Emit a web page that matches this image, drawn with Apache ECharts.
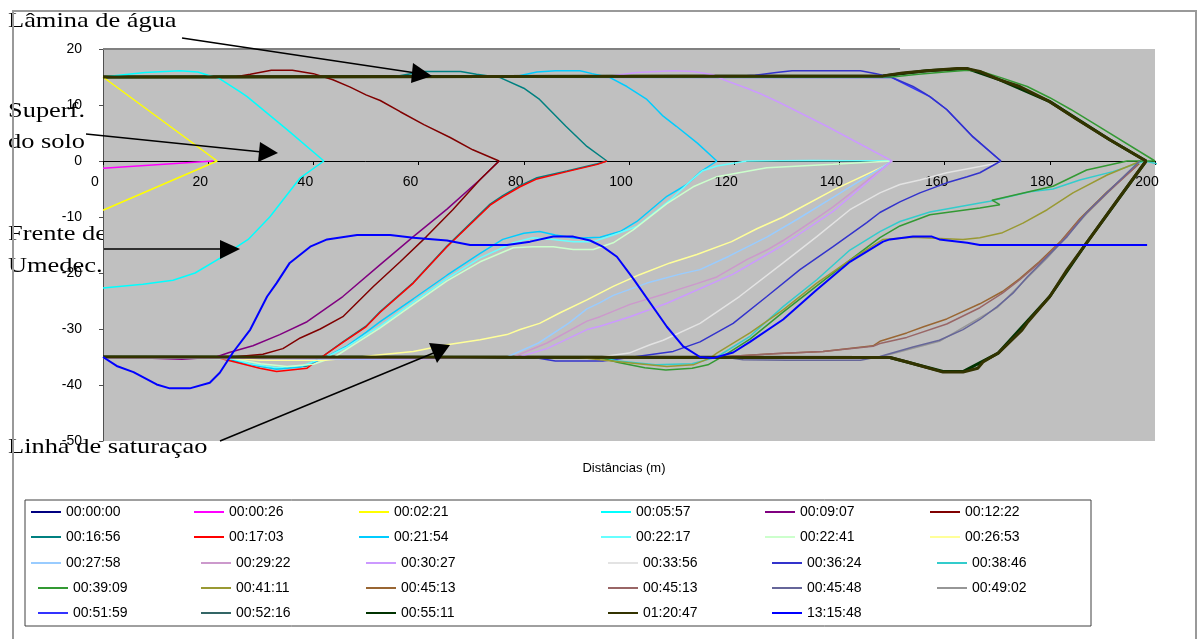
<!DOCTYPE html>
<html>
<head>
<meta charset="utf-8">
<script src="https://cdn.jsdelivr.net/npm/echarts@6/dist/echarts.min.js"></script>
<style>
html, body { margin: 0; padding: 0; background: #fff; }
#chart { width: 1197px; height: 639px; }
</style>
</head>
<body>
<div id="chart"></div>
<script>
// tempos de avanço (legenda, por linhas de 6)
const names = [
  '00:00:00', '00:00:26', '00:02:21', '00:05:57', '00:09:07', '00:12:22',
  '00:16:56', '00:17:03', '00:21:54', '00:22:17', '00:22:41', '00:26:53',
  '00:27:58', '00:29:22', '00:30:27', '00:33:56', '00:36:24', '00:38:46',
  '00:39:09', '00:41:11', '00:45:13', '00:45:13 ', '00:45:48', '00:49:02',
  '00:51:59', '00:52:16', '00:55:11', '01:20:47', '13:15:48'
];
const colors = [
  '#000080', '#FF00FF', '#FFFF00', '#00FFFF', '#800080', '#800000',
  '#008080', '#FF0000', '#00CCFF', '#66FFFF', '#CCFFCC', '#FFFF99',
  '#99CCFF', '#CC99CC', '#CC99FF', '#E3E3E3', '#3333CC', '#33CCCC',
  '#339933', '#999933', '#996633', '#996666', '#666699', '#969696',
  '#3333FF', '#336666', '#003300', '#333300', '#0000FF'
];
const xTicks = [0, 20, 40, 60, 80, 100, 120, 140, 160, 180, 200];
const yTicks = [-50, -40, -30, -20, -10, 0, 10, 20];

// perfis [distância, cota]
const t000000 = [[0, 15], [100, 15]];
const t000026 = [[0, -1.3], [21, 0]];
const t000221 = [[0, 15], [21.7, 0], [0, -8.8]];
const t000557 = [[0,15],[3,15.3],[8,15.8],[14.6,16.1],[18,15.9],[20,15.3],[22,14.8],[24,13.6],[26,12.4],[27.4,11.5],[35,5.6],[42,0],[37.5,-3],[31.7,-10],[27.6,-14],[24.7,-15.8],[22.9,-17],[17.5,-20],[13.3,-21.3],[7.6,-22],[0,-22.7]];
const t000907 = [[75.3,0],[71.7,-3.3],[65.4,-8.6],[59,-13.5],[52.7,-18.5],[45.6,-24.2],[38.8,-28.7],[33.6,-31],[28.5,-33],[24,-34.2],[21.5,-35],[15,-35.4],[8,-35.2],[0,-35]];
const t001222 = [[0,15],[25,15],[28,15.5],[32,16.2],[36,16.2],[40,15.6],[43.7,14.5],[47,13.2],[50,11.8],[52.7,10.8],[56.5,8.8],[61,6.5],[66,4.2],[70.3,2],[75.3,0],[71.7,-3.3],[66.5,-8.7],[61.5,-13.5],[56.5,-18],[51.4,-22.4],[45.6,-27.8],[41.3,-30],[37.5,-31.6],[34.2,-33.5],[30.4,-34.5],[24.7,-35],[0,-35]];
const t001656 = [[0,15],[55,15],[58,15.5],[61,16],[68,16],[71,15.5],[75.5,14.9],[80,13],[83,11],[88,6.2],[92,2.6],[95.8,0],[94,-0.5],[88.2,-1.8],[82.5,-3],[79.3,-4.4],[76,-6.2],[73.6,-7.7],[65.4,-15.2],[59,-21.7],[52.7,-26.9],[50,-29.5],[45.6,-32.3],[41.6,-35],[38.8,-36.6],[33,-37],[29.8,-36.6],[24.7,-35.6],[22,-35],[0,-35]];
const t001703 = [[95.8,0],[94,-0.6],[88.2,-1.9],[82.5,-3.2],[79.3,-4.6],[76,-6.4],[73.6,-7.9],[65.4,-15.3],[59,-21.8],[52.7,-27],[50,-29.6],[45.6,-32.4],[41.6,-35],[38.8,-37],[33,-37.6],[29.8,-37],[24.7,-35.8],[22,-35.2],[0,-35.1]];
const t002154 = [[0,15],[78,15],[82.5,15.9],[86,16.1],[90.7,16.1],[93,15.6],[96.4,14.9],[99.6,13.3],[103.4,11],[106.5,8],[109,6.2],[113,3.2],[116.7,0],[113.5,-2],[111,-4.2],[107.2,-6.3],[101.5,-10.8],[98.3,-12.6],[94.5,-13.6],[90,-13.8],[86,-13.2],[83,-12.6],[80,-12.9],[76,-14],[71.7,-16.5],[65.4,-20.4],[59,-24.6],[52.7,-28.7],[50,-30.6],[46.4,-33],[42.8,-34.8],[40,-36],[37.5,-36.8],[33,-37.2],[28.5,-36.4],[24,-35.3],[20,-35],[0,-35]];
const t002217 = [[150,0],[135,0.1],[122.4,0],[116.7,-0.9],[113.9,-1.8],[112,-3.3],[107.8,-7],[101.5,-11.7],[97,-13.2],[93.2,-14.4],[89.4,-14.4],[85.6,-14],[81.7,-13.7],[78,-14.6],[71.7,-17.3],[65.4,-21],[59,-25.2],[52.7,-29.5],[50,-31],[46,-33.4],[42.5,-35],[38,-36.5],[33,-36.9],[28,-36.2],[24,-35.2],[0,-35]];
const t002241 = [[150,0],[138.8,-0.6],[126.2,-1.2],[116.7,-2.8],[112.2,-4.6],[107.2,-7.6],[100.8,-12.3],[97,-14.6],[93.2,-15.8],[89.4,-15.8],[85.6,-15.3],[81.7,-15.3],[78,-15.5],[71.7,-18],[65.4,-21.4],[59,-25.6],[52.7,-29.8],[48,-32.6],[44,-35],[40,-36.3],[35,-36.7],[30,-36.2],[25,-35.3],[0,-35]];
const t002653 = [[150,0],[149,-0.7],[138.8,-5.2],[129.3,-10],[124.3,-12.1],[119.5,-14.4],[112.9,-16.7],[107.8,-18.2],[102,-20.3],[97,-22.4],[92,-24.8],[86.9,-27.1],[83,-29],[79.3,-30.1],[76.8,-31],[71.7,-31.9],[65.4,-32.8],[59,-34],[52.7,-34.6],[48,-35.1],[42,-35.6],[30,-35.6],[24,-35.2],[0,-35]];
const t002758 = [[150,0],[148.3,-1],[138.8,-6.5],[132,-10.4],[126.2,-13.6],[119,-17],[113.5,-19.4],[109.7,-20.2],[103.4,-21.8],[97,-24],[94.5,-25.3],[92,-26.4],[88.5,-29],[82.8,-32.5],[76.8,-35],[50,-35.4],[0,-35]];
const t002922 = [[150,0],[148.3,-1.3],[138.8,-8.2],[135.7,-10.2],[129.3,-14.2],[126.2,-15.9],[122.4,-17.6],[116.7,-20.7],[112.9,-21.9],[107.2,-23.6],[100.2,-25.6],[94.5,-27.8],[92,-28.6],[84.4,-32.5],[78,-35],[0,-35.2]];
const t003027 = [[0,15],[95,15],[101.5,15.8],[108.4,16.1],[112.2,16],[116,15.4],[118,14.5],[122.4,13],[125,12],[128.7,10.4],[137.6,6.2],[150,0],[138.8,-9],[129.3,-15],[119.8,-20.2],[107.2,-25.4],[100.2,-27.8],[94.5,-29.5],[92,-30.1],[84.4,-33.5],[79,-35],[60,-35.3],[0,-35.2]];
const t003356 = [[170.5,-0.3],[166.7,-1],[160.4,-2.1],[155.3,-3.4],[151.5,-4.2],[147.7,-5.7],[142,-8.7],[135.7,-13.5],[129.3,-18.2],[121,-24.2],[113.5,-29],[106.5,-32],[104,-32.8],[100,-34.3],[94.5,-35],[0,-35.1]];
const t003624 = [[0,15],[118,15],[124,15.3],[128,15.8],[131,16.1],[144,16.1],[147,15.6],[150,14.9],[154,13.3],[156,12.2],[157.2,11.5],[160.4,9.2],[165.4,4.3],[170.7,0],[166.7,-2.1],[164.3,-2.8],[160.4,-3.9],[155.3,-5.7],[151.5,-7.3],[147.7,-9.2],[145.2,-11],[138.8,-15.3],[132.5,-19.4],[126.2,-24.2],[119.8,-29],[113.5,-32.3],[108.4,-34],[100.8,-35],[95,-35.7],[86,-35.7],[82,-35.1],[0,-35]];
const t003846 = [[201,-0.6],[198,0],[192,-1.9],[185.7,-3.4],[180.6,-5],[176.2,-5.5],[168.6,-7.2],[166.7,-7.5],[157.2,-9.1],[151.5,-10.8],[147.7,-12.6],[142,-15.9],[135.7,-21.2],[129.3,-26],[123,-31.3],[116.7,-35],[112,-36.2],[105,-36.4],[98,-35.7],[94,-35],[0,-35]];
const t003909 = [[0,15],[150,15],[155,15.5],[160,15.9],[164.3,16.2],[167,16],[171,14.8],[175.7,13.3],[180,11.3],[184,9.2],[188.2,6.8],[200,0],[194.7,0],[187,-1.6],[180.6,-4.5],[175,-5.7],[169,-7],[170.5,-7.8],[166.7,-8.4],[157.2,-9.6],[151.5,-11.6],[147.7,-13.7],[142,-17.7],[135.7,-22.3],[129.3,-27],[123,-31.8],[118,-34.8],[115,-36.4],[112,-37],[107,-37.3],[103,-36.9],[98,-36],[94,-35],[0,-35]];
const t004111 = [[197.1,-0.1],[190.9,-2.5],[184.4,-5.7],[179.5,-8.7],[174.9,-11.1],[171,-12.8],[166.7,-13.7],[163.5,-14],[158,-13.8],[154,-13.6],[148.3,-14],[142,-17.7],[135.7,-21.8],[129.3,-26.6],[123,-30.7],[116.7,-34.3],[115.4,-35.2],[112.2,-36.4],[107.2,-36.7],[100.8,-36.1],[94.5,-35.5],[90,-35],[0,-35]];
const t004513a = [[197,-0.5],[190.9,-5.5],[185.7,-10.3],[182,-14.4],[178,-18],[174.3,-21],[171,-23.3],[166.7,-25.5],[160.4,-28.2],[156,-29.6],[152.8,-30.7],[147.7,-32.2],[146.4,-33],[136.9,-34],[127.4,-34.4],[117.3,-35],[0,-35]];
const t004513b = [[196.6,-0.8],[190.9,-5.7],[185.7,-10.5],[182,-14.6],[178,-18.2],[174.3,-21.2],[171,-23.6],[166.7,-26.2],[160.4,-29.1],[152.8,-31.5],[147.7,-32.6],[146.4,-33.1],[136.9,-34],[127.4,-34.4],[117.3,-35],[0,-35]];
const t004548 = [[197.1,0],[192,-4.6],[187,-9.2],[183.3,-13.5],[179.5,-17.1],[175.7,-20.7],[173,-23.6],[170,-26],[166.7,-28.3],[163.5,-30.1],[159,-32],[154,-33.2],[147.7,-34.9],[144,-35.6],[130,-35.6],[121.7,-35.5],[118,-35],[0,-35]];
const t004902 = [[197.1,0],[187,-9.4],[179.5,-17.3],[170,-26.2],[159,-32.2],[147.7,-35],[0,-35]];
const t005159 = [[0,15],[150,14.9],[157.2,11.5],[160.4,9.2],[165.4,4.3],[170.7,0]];
const t005216 = [[0,15],[148.3,15.2],[156.6,16.1],[164.3,16.5],[170.5,14.5],[180,10.6],[191.4,3.8],[198.3,0]];
const t005511 = [[0,15],[148.3,15.2],[156.6,16.1],[164.3,16.5],[170.5,14.5],[180,10.6],[191.4,3.8],[198.3,0],[187,-14.6],[180,-24.2],[170.2,-34.3],[163.5,-37.6],[159.7,-37.6],[149.6,-35.1],[0,-35]];
const t012047 = [[0,15],[148.3,15.2],[152,15.7],[156.6,16.1],[162.4,16.5],[164.3,16.5],[166.7,16],[170.5,14.5],[174.3,13.3],[176.2,12.4],[180,10.6],[185.2,7.4],[191.4,3.8],[198.3,0],[193.3,-6.4],[187,-14.6],[183.3,-19.4],[180,-24.2],[175.7,-28.9],[174.7,-30.2],[170.2,-34.3],[167.3,-35.9],[166.3,-37],[163.5,-37.7],[159.7,-37.7],[152.9,-35.9],[149.6,-35.1],[0,-35]];
const t131548 = [[0,-35],[2.6,-36.6],[5.8,-37.7],[10.2,-39.9],[12.7,-40.6],[16.5,-40.6],[20.3,-39.6],[22.2,-37.8],[24.7,-34.2],[28,-30.1],[31.2,-24.2],[33,-21.8],[35.5,-18.2],[39.4,-15.3],[42.6,-14],[48.3,-13.2],[54.6,-13.2],[59,-13.7],[65.4,-14.2],[69.8,-15],[76.8,-15],[81.2,-14.4],[85.6,-13.5],[89.4,-13.5],[92.6,-14.2],[95,-15.3],[97.7,-17.1],[100.8,-21],[107.2,-29.6],[110.3,-33.1],[113.5,-35],[116,-35.2],[119.8,-34.2],[123,-32.3],[129.3,-28.3],[135.7,-23],[142,-18],[148.3,-14.4],[149.6,-14],[154,-13.5],[157.6,-13.5],[159,-14],[164.3,-14.6],[166.7,-15],[198.5,-15]];

const profiles = [
  t000000, t000026, t000221, t000557, t000907, t001222,
  t001656, t001703, t002154, t002217, t002241, t002653,
  t002758, t002922, t003027, t003356, t003624, t003846,
  t003909, t004111, t004513a, t004513b, t004548, t004902,
  t005159, t005216, t005511, t012047, t131548
];

// ordem de desenho: as curvas escondidas primeiro
const drawOrder = [0, 23, 24, 25, 26, 1, 2, 3, 4, 5, 6, 7, 8, 9, 10, 11, 12, 13, 14, 15, 16, 17, 18, 19, 20, 21, 22, 27, 28];
const lineWidths = { 26: 3, 27: 3, 28: 2 };

const series = drawOrder.map(i => ({
  name: names[i],
  type: 'line',
  data: profiles[i],
  symbol: 'none',
  color: colors[i],
  lineStyle: { color: colors[i], width: lineWidths[i] || 1.5 },
  itemStyle: { color: colors[i] },
  animation: false
}));

// legenda em grelha (6 colunas x 5 linhas)
const legColX = [30, 193, 358, 600, 764, 929];
const legRowY = [512, 537, 563, 588, 613];
const legends = names.map((n, i) => {
  const row = Math.floor(i / 6), col = i % 6;
  const shift = (row >= 2 && !(row === 2 && col === 0)) ? 7 : 0;
  return {
    data: [n],
    left: legColX[col] + shift,
    top: legRowY[row] - 7,
    padding: 0,
    itemWidth: 30,
    itemHeight: 14,
    selectedMode: false,
    itemStyle: { opacity: 0 },
    lineStyle: { width: 2, opacity: 1 },
    textStyle: { fontFamily: 'Liberation Sans, Arial, sans-serif', fontSize: 14, color: '#000' }
  };
});

const serif = 'Liberation Serif, Times New Roman, serif';
function label (text, x, y) {
  return {
    type: 'text', x: x, y: y, scaleX: 1.2, z: -5,
    style: { text: text, font: '22px ' + serif, fill: '#000', textVerticalAlign: 'middle' }
  };
}
function arrow (x1, y1, x2, y2, head) {
  return [
    { type: 'line', z: 100, shape: { x1: x1, y1: y1, x2: x2, y2: y2 }, style: { stroke: '#000', lineWidth: 1.5 } },
    { type: 'polygon', z: 100, shape: { points: head }, style: { fill: '#000' } }
  ];
}

const chart = echarts.init(document.getElementById('chart'));
chart.setOption({
  animation: false,
  backgroundColor: '#fff',
  grid: {
    left: 103, right: 42, top: 49, bottom: 198,
    outerBoundsMode: 'none',
    containLabel: false,
    show: true, backgroundColor: '#C0C0C0', borderWidth: 0
  },
  xAxis: {
    type: 'value',
    min: xTicks[0], max: xTicks[xTicks.length - 1], interval: 20,
    // eixo desenhado na cota 0 (49 + 20/70*392 = 161)
    offset: -280,
    name: 'Distâncias (m)',
    nameLocation: 'middle',
    nameGap: 301,
    nameTextStyle: { fontFamily: 'Liberation Sans, Arial, sans-serif', fontSize: 13, color: '#000', padding: [0, 10, 0, 0] },
    axisLine: { onZero: false, lineStyle: { color: '#000', width: 1 } },
    axisTick: { show: true, length: 4, lineStyle: { color: '#000' } },
    axisLabel: {
      margin: 14, color: '#000', fontSize: 14,
      fontFamily: 'Liberation Sans, Arial, sans-serif',
      padding: [0, 16, 0, 0]
    },
    splitLine: { show: false }
  },
  yAxis: {
    type: 'value',
    min: yTicks[0], max: yTicks[yTicks.length - 1], interval: 10,
    axisLine: { show: true, lineStyle: { color: '#505050', width: 1 } },
    axisTick: { show: true, length: 4, lineStyle: { color: '#505050' } },
    axisLabel: { margin: 21, color: '#000', fontSize: 14, fontFamily: 'Liberation Sans, Arial, sans-serif' },
    splitLine: { show: false }
  },
  legend: legends,
  graphic: [
    { type: 'rect', z: 50, shape: { x: 13, y: 11, width: 1183, height: 640 }, style: { fill: 'transparent', stroke: '#999', lineWidth: 2 } },
    { type: 'rect', z: 50, shape: { x: 25, y: 500, width: 1066, height: 126 }, style: { fill: 'transparent', stroke: '#404040', lineWidth: 1 } },
    { type: 'line', z: 50, shape: { x1: 103, y1: 49, x2: 900, y2: 49 }, style: { stroke: '#808080', lineWidth: 2 } },
    label('Lâmina de água', 8, 21),
    label('Superf.', 8, 111),
    label('do solo', 8, 142.6),
    label('Frente de', 8, 234.3),
    label('Umedec.', 8, 266),
    label('Linha de saturaçao', 8, 447.6),
    ...arrow(182, 38, 416, 73, [[432, 76], [413, 63], [411, 83]]),
    ...arrow(86, 134, 262, 152, [[278, 153], [260, 142], [258, 162]]),
    ...arrow(104, 249, 222, 249, [[240, 249], [220, 240], [220, 259]]),
    ...arrow(220, 441, 436, 352, [[450, 345], [429, 343], [437, 363]])
  ],
  series: series
});
</script>
</body>
</html>
